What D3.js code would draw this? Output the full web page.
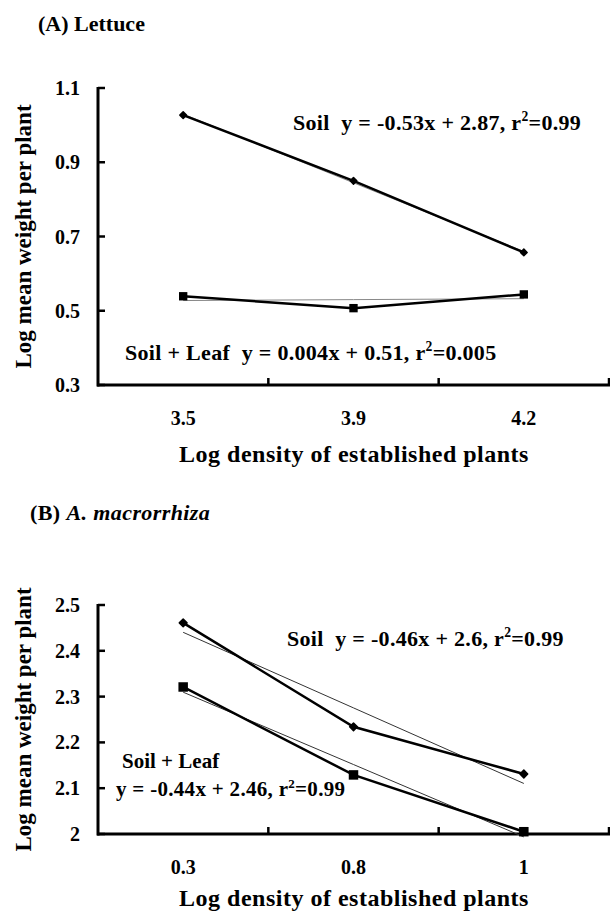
<!DOCTYPE html>
<html>
<head>
<meta charset="utf-8">
<script src="https://cdn.jsdelivr.net/npm/d3@7"></script>
<style>
  body { margin: 0; background: #fff; }
  svg text { font-family: "Liberation Serif", "Times New Roman", serif; font-weight: bold; fill: #000; white-space: pre; }
</style>
</head>
<body>
<svg id="chart" width="610" height="912"></svg>
<script>
// ---- data ----
const lettuceDensity = ['3.5', '3.9', '4.2'];
const lettuceSoil    = [1.027, 0.850, 0.657];
const lettuceLeaf    = [0.539, 0.507, 0.544];
const lettuceTicks   = [0.3, 0.5, 0.7, 0.9, 1.1];

const amacDensity = ['0.3', '0.8', '1'];
const amacSoil    = [2.461, 2.234, 2.131];
const amacLeaf    = [2.321, 2.129, 2.005];
const amacTicks   = [2, 2.1, 2.2, 2.3, 2.4, 2.5];

const xTitle = 'Log density of established plants';
const yTitle = 'Log mean weight per plant';

const svg = d3.select('#chart');
svg.append('rect').attr('width', 610).attr('height', 912).attr('fill', '#fff');

// least squares fit on category index (Excel-style linear trendline)
function trend(vals) {
  const n = vals.length, xs = d3.range(n);
  const mx = d3.mean(xs), my = d3.mean(vals);
  const b = d3.sum(xs, (x, i) => (x - mx) * (vals[i] - my)) / d3.sum(xs, x => (x - mx) ** 2);
  return xs.map(x => my + b * (x - mx));
}

// equation text with a superscript 2
function equation(g, x, y, pre, post, size) {
  const t = g.append('text').attr('x', x).attr('y', y)
    .style('font-size', size + 'px').style('letter-spacing', '0.3px');
  t.append('tspan').text(pre);
  t.append('tspan').text('2').attr('dy', -size * 0.4).style('font-size', (size * 0.62) + 'px');
  t.append('tspan').text(post).attr('dy', size * 0.4);
  return t;
}

function drawPanel(p) {
  const g = svg.append('g');
  const x = d3.scaleBand(p.cats, [98, 609]);
  const y = d3.scaleLinear(p.yDomain, [p.bottom, p.top]);
  const cx = d => x(d) + x.bandwidth() / 2;

  // panel title
  p.title(g);

  // y axis
  g.append('line').attr('x1', 98).attr('x2', 98).attr('y1', p.top - 1).attr('y2', p.bottom + 1.5)
    .attr('stroke', '#000').attr('stroke-width', 3);
  g.selectAll('.ytick').data(p.ticks).enter().append('line')
    .attr('x1', 98).attr('x2', 105).attr('y1', d => y(d)).attr('y2', d => y(d))
    .attr('stroke', '#000').attr('stroke-width', 2.5);
  g.selectAll('.ylab').data(p.ticks).enter().append('text')
    .attr('x', 80).attr('y', d => y(d) + 7).attr('text-anchor', 'end')
    .style('font-size', '20px').text(d => d3.format(p.fmt)(d));

  // x axis
  g.append('line').attr('x1', 97).attr('x2', 610).attr('y1', p.bottom).attr('y2', p.bottom)
    .attr('stroke', '#000').attr('stroke-width', 3);
  g.selectAll('.xtick').data(p.cats).enter().append('line')
    .attr('x1', d => x(d) + x.bandwidth()).attr('x2', d => x(d) + x.bandwidth())
    .attr('y1', p.bottom).attr('y2', p.bottom - 7)
    .attr('stroke', '#000').attr('stroke-width', 2.5);
  g.selectAll('.xlab').data(p.cats).enter().append('text')
    .attr('x', d => cx(d)).attr('y', p.bottom + 40).attr('text-anchor', 'middle')
    .style('font-size', '20px').text(d => d);

  // axis titles
  g.append('text').attr('x', 354).attr('y', p.bottom + p.xTitleGap).attr('text-anchor', 'middle')
    .style('font-size', '24px').style('letter-spacing', '0.5px').text(xTitle);
  g.append('text').attr('transform', 'rotate(-90)')
    .attr('x', -(p.top + p.bottom) / 2).attr('y', 31).attr('text-anchor', 'middle')
    .style('font-size', '23px').text(yTitle);

  const line = d3.line().x((d, i) => cx(p.cats[i])).y(d => y(d));

  // trend lines (thin)
  [p.soil, p.leaf].forEach(s => {
    g.append('path').attr('d', line(trend(s))).attr('fill', 'none')
      .attr('stroke', p.trendColor).attr('stroke-width', 1);
  });
  // data lines
  [p.soil, p.leaf].forEach(s => {
    g.append('path').attr('d', line(s)).attr('fill', 'none')
      .attr('stroke', '#000').attr('stroke-width', 2.5);
  });
  // markers
  g.selectAll('.dia').data(p.soil).enter().append('path')
    .attr('d', d3.symbol(d3.symbolDiamond2 || d3.symbolDiamond, p.diaSize))
    .attr('stroke', '#000').attr('stroke-width', 1.5).attr('stroke-linejoin', 'round')
    .attr('transform', (d, i) => `translate(${cx(p.cats[i])},${y(d)})`);
  g.selectAll('.sq').data(p.leaf).enter().append('path')
    .attr('d', d3.symbol(d3.symbolSquare, p.sqSize))
    .attr('transform', (d, i) => `translate(${cx(p.cats[i])},${y(d)})`);

  p.notes(g);
}

drawPanel({
  cats: lettuceDensity, soil: lettuceSoil, leaf: lettuceLeaf, ticks: lettuceTicks,
  yDomain: [0.3, 1.1], top: 88, bottom: 385, fmt: '.1f', trendColor: '#888',
  diaSize: 28, sqSize: 70, xTitleGap: 77,
  title: g => g.append('text').attr('x', 38).attr('y', 31).style('font-size', '22px').text('(A) Lettuce'),
  notes: g => {
    equation(g, 293, 130, 'Soil  y = -0.53x + 2.87, r', '=0.99', 22);
    equation(g, 125, 360, 'Soil + Leaf  y = 0.004x + 0.51, r', '=0.005', 22);
  }
});

drawPanel({
  cats: amacDensity, soil: amacSoil, leaf: amacLeaf, ticks: amacTicks,
  yDomain: [2, 2.5], top: 605, bottom: 834, fmt: '', trendColor: '#333',
  diaSize: 38, sqSize: 90, xTitleGap: 72,
  title: g => {
    const t = g.append('text').attr('x', 30).attr('y', 520)
      .style('font-size', '22px').style('letter-spacing', '0.4px');
    t.append('tspan').text('(B) ');
    t.append('tspan').style('font-style', 'italic').text('A. macrorrhiza');
  },
  notes: g => {
    equation(g, 287, 646, 'Soil  y = -0.46x + 2.6, r', '=0.99', 22);
    g.append('text').attr('x', 122).attr('y', 768).style('font-size', '21px').text('Soil + Leaf');
    equation(g, 116, 796, 'y = -0.44x + 2.46, r', '=0.99', 21);
  }
});
</script>
</body>
</html>
